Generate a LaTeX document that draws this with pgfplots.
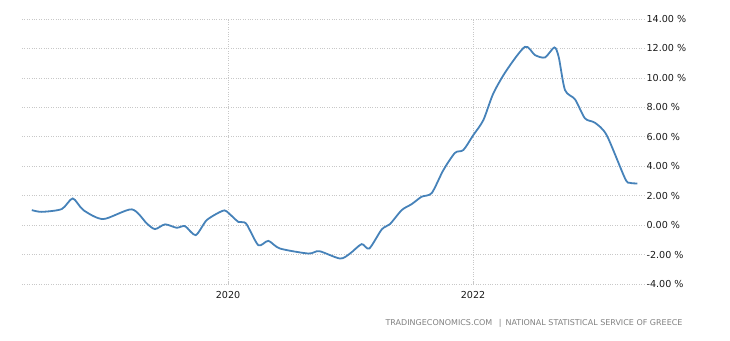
\documentclass[border=0pt]{standalone}
\usepackage{pgfplots}
\pgfplotsset{compat=1.18}
\usepackage{fontspec}
\setmainfont{DejaVu Sans}
\definecolor{lineblue}{RGB}{70,130,185}
\definecolor{gridgray}{RGB}{200,200,200}
\begin{document}
\begin{tikzpicture}[x=1pt,y=1pt]
\path[use as bounding box] (0,0) rectangle (730,340);
\begin{axis}[
  at={(22pt,56pt)}, anchor=south west,
  scale only axis, width=623pt, height=265pt,
  xmin=2018.318, xmax=2023.404,
  ymin=-4, ymax=14,
  axis line style={draw=none},
  xtick={2020,2022}, xticklabels={2020,2022},
  ytick={-4,-2,0,2,4,6,8,10,12,14},
  yticklabel pos=right,
  yticklabel={\pgfmathprintnumber[fixed,fixed zerofill,precision=2]{\tick}~\%},
  /pgf/number format/assume math mode=true,
  ticklabel style={font=\fontsize{9.6}{11}\selectfont, text=black!90},
  xticklabel style={yshift=-4pt},
  yticklabel style={xshift=-2pt},
  major tick length=3pt,
  tick style={gridgray, line width=0.6pt},
  ytick style={draw=none},
  xtick pos=bottom,
  grid=major,
  major grid style={gridgray, dotted, line width=0.7pt},
  clip=false,
]
\addplot[lineblue, line width=1.8pt, smooth, tension=0.45] coordinates {
(2018.398,1.02) (2018.479,0.90) (2018.642,1.09) (2018.732,1.81) (2018.819,1.02)
(2018.980,0.41) (2019.214,1.07) (2019.337,0.11) (2019.404,-0.27) (2019.486,0.05)
(2019.581,-0.18) (2019.649,-0.07) (2019.736,-0.68) (2019.826,0.34) (2019.949,0.95)
(2019.989,0.93) (2020.084,0.22) (2020.147,0.11) (2020.247,-1.36) (2020.329,-1.07)
(2020.424,-1.59) (2020.656,-1.93) (2020.745,-1.77) (2020.914,-2.27) (2020.996,-1.93)
(2021.091,-1.29) (2021.153,-1.59) (2021.255,-0.29) (2021.322,0.07) (2021.418,1.02)
(2021.500,1.43) (2021.581,1.93) (2021.663,2.18) (2021.758,3.74) (2021.853,4.91)
(2021.921,5.10) (2022.002,6.11) (2022.084,7.13) (2022.166,8.95) (2022.275,10.53)
(2022.424,12.11) (2022.506,11.55) (2022.588,11.39) (2022.664,12.07) (2022.700,11.40)
(2022.751,9.17) (2022.833,8.54) (2022.914,7.25) (2022.996,6.95) (2023.091,6.11)
(2023.241,3.17) (2023.282,2.87) (2023.341,2.83)
};
\end{axis}
\node[anchor=east, text=black!50, font=\fontsize{8}{9}\selectfont] at (686,17) {TRADINGECONOMICS.COM \enspace|\enspace NATIONAL STATISTICAL SERVICE OF GREECE};
\end{tikzpicture}
\end{document}
